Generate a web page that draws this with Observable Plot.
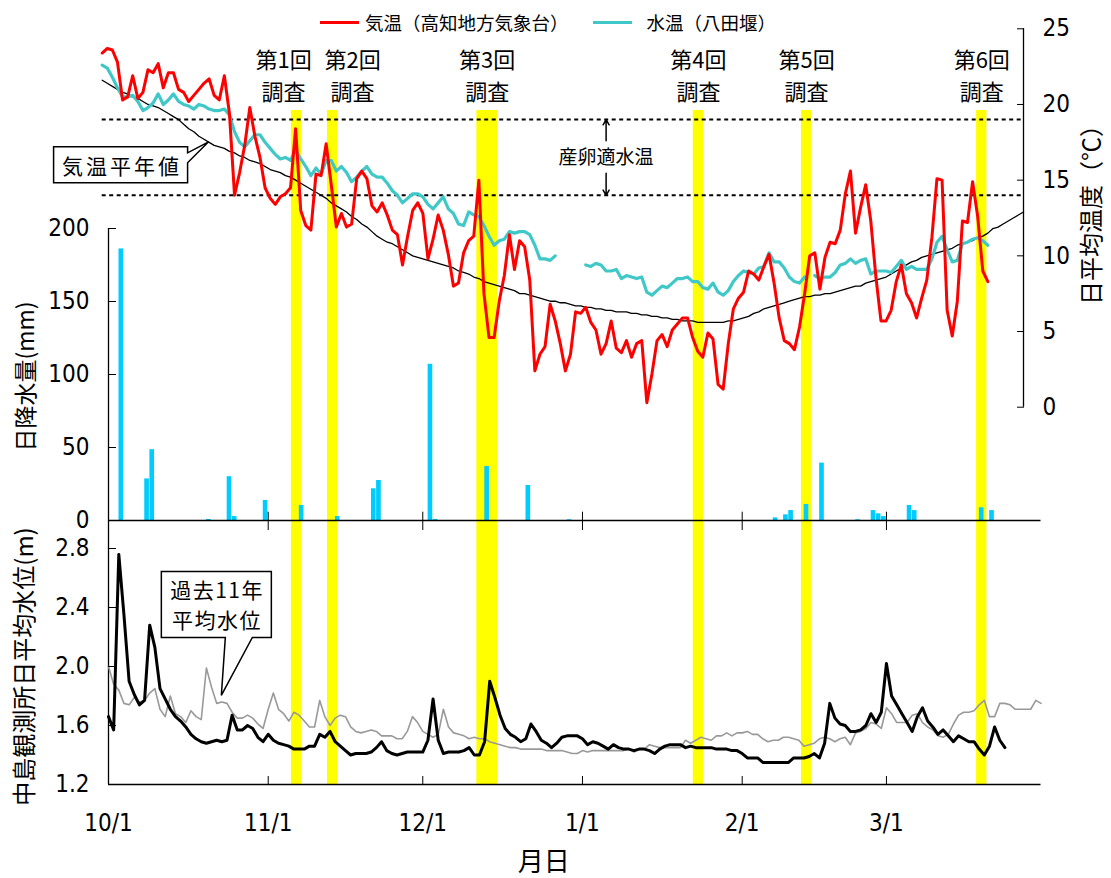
<!DOCTYPE html>
<html><head><meta charset="utf-8">
<script src="https://cdn.jsdelivr.net/npm/d3@7"></script>
<script src="https://cdn.jsdelivr.net/npm/@observablehq/plot@0.6"></script>
<style>
body{margin:0;background:#fff;font-family:"Noto Sans CJK JP",sans-serif;}
#chart{position:relative;width:1111px;height:878px;overflow:hidden;}
#chart>svg{position:absolute;left:0;top:0;}
#chart g[aria-label$="tick label"] text{font-family:"Liberation Sans Narrow","DejaVu Sans Condensed","Noto Sans CJK JP",sans-serif;font-size:24px;}
#legend{position:absolute;top:9px;left:320px;display:flex;align-items:center;font-size:18.5px;color:#000;white-space:nowrap;}
#legend .sw{display:inline-block;width:39px;height:3px;margin-right:6px;}
</style></head>
<body><div id="chart"><div id="legend"><span class="sw" style="background:#ff0000"></span>気温（高知地方気象台）<span class="sw" style="background:#40c8c8;margin-left:24px;margin-right:15px"></span>水温（八田堰）</div></div>
<script>
// ---------------- data ----------------
const startDate = "2018-10-01";           // day 0 of every daily series
const endDate = "2019-03-31";
const monthTicks = ["2018-10-01","2018-11-01","2018-12-01","2019-01-01","2019-02-01","2019-03-01"];
const tempTicks = [0,5,10,15,20,25];
const rainTicks = [0,50,100,150,200];
const levelTicks = [1.2,1.6,2.0,2.4,2.8];
const spawnRange = [14,19];

const surveyNames = ["第1回","第2回","第3回","第4回","第5回","第6回"];
const surveyWord = "調査";
const surveyStart = ["2018-11-06","2018-11-13","2018-12-12","2019-01-23","2019-02-13","2019-03-19"];
const surveyEnd   = ["2018-11-07","2018-11-14","2018-12-15","2019-01-24","2019-02-14","2019-03-20"];

// 気温（高知地方気象台） daily mean, °C
const airTemp = [23.4,23.7,23.6,22.8,20.3,20.5,21.9,20.4,20.8,22.3,
22.1,22.7,21.1,22.1,22.1,21.0,20.8,20.2,20.6,21.0,
21.4,21.7,20.6,20.3,21.9,19.4,14.0,15.5,17.3,19.8,
17.9,16.5,14.5,13.8,13.4,13.9,14.1,14.5,18.4,13.0,
12.0,11.7,15.4,15.3,17.4,14.7,11.9,12.8,11.9,12.1,
15.1,15.6,15.1,13.3,12.9,13.5,12.7,11.7,11.4,9.4,
11.3,13.0,13.5,12.8,9.8,11.1,12.7,11.7,10.1,8.0,
8.2,10.2,11.0,11.3,15.0,7.5,4.6,4.6,7.0,8.7,
11.4,9.1,11.0,10.6,8.4,2.4,3.5,4.0,6.8,5.7,
4.2,2.4,3.5,6.3,6.2,6.6,5.6,5.1,3.5,4.2,
5.7,3.9,3.6,4.4,3.3,4.2,4.4,0.3,2.2,4.4,
4.8,4.0,5.1,5.5,5.9,5.9,4.6,3.7,3.3,4.9,
4.5,1.5,1.2,4.2,6.5,7.2,7.6,9.0,8.8,8.4,
9.3,10.1,8.2,5.9,4.4,4.2,3.8,5.3,7.5,10.0,
10.2,7.8,9.9,10.9,10.8,11.7,14.1,15.6,11.5,13.2,
14.7,12.3,8.6,5.7,5.7,6.4,8.3,9.4,7.5,6.9,
5.9,7.2,8.4,11.2,15.1,15.0,6.4,4.7,7.0,12.3,
12.2,14.9,12.6,9.0,8.3];

// 水温（八田堰） daily mean, °C (null = missing)
const waterTemp = [22.6,22.4,21.8,21.1,20.5,20.5,20.6,20.2,19.6,19.8,
20.1,20.7,20.0,20.3,20.7,20.2,20.0,19.9,19.7,20.0,
19.9,19.7,19.6,19.6,19.7,19.3,18.2,17.5,17.2,17.6,
18.0,18.0,17.5,17.1,16.7,16.4,16.5,16.3,17.0,16.4,
15.9,15.3,15.8,15.4,16.3,16.3,15.6,15.9,15.5,14.9,
15.2,15.6,15.9,15.4,15.2,15.2,14.8,14.3,14.0,13.5,
13.8,14.1,14.1,13.9,13.4,13.1,13.5,13.9,13.1,12.8,
12.1,12.0,12.9,12.7,12.6,12.0,11.3,10.7,11.0,11.1,
11.6,11.5,11.6,11.6,11.4,10.7,9.8,9.8,9.7,10.0,
null,null,null,null,null,9.4,9.3,9.5,9.4,9.0,
9.0,9.1,8.5,8.7,8.6,8.5,8.6,7.6,7.4,7.7,
8.0,7.9,8.2,8.5,8.5,8.6,8.3,8.3,7.9,7.8,
8.2,7.6,7.4,7.7,8.3,8.7,9.0,8.9,8.8,9.2,
9.3,10.2,9.6,9.6,9.2,8.6,8.3,8.2,8.6,null,
8.7,8.5,8.6,8.6,8.9,9.4,9.5,9.8,9.5,9.7,
9.8,8.8,9.0,9.0,9.0,8.9,9.3,9.7,9.1,9.3,
9.1,9.1,9.1,9.8,10.9,11.3,10.4,9.6,9.7,10.8,
10.9,11.1,11.2,11.0,10.7];

// 気温平年値, °C
const normalTemp = [21.6,21.4,21.2,21.0,20.8,20.7,20.5,20.4,20.2,20.0,
19.9,19.8,19.6,19.4,19.2,19.0,18.7,18.4,18.2,17.9,
17.7,17.5,17.3,17.2,17.1,16.9,16.8,16.6,16.5,16.3,
16.2,16.1,15.9,15.7,15.6,15.5,15.3,15.2,15.0,14.8,
14.6,14.4,14.2,14.0,13.8,13.5,13.3,13.1,12.9,12.6,
12.4,12.1,11.9,11.6,11.3,11.1,10.9,10.8,10.6,10.4,
10.2,10.0,9.9,9.8,9.7,9.6,9.5,9.4,9.3,9.2,
9.0,8.9,8.8,8.6,8.5,8.3,8.2,8.1,8.0,7.9,
7.8,7.7,7.5,7.5,7.4,7.3,7.2,7.1,7.0,7.0,
6.9,6.9,6.8,6.7,6.7,6.6,6.6,6.5,6.5,6.4,
6.4,6.3,6.3,6.3,6.2,6.2,6.1,6.1,6.0,6.0,
5.9,5.9,5.8,5.8,5.7,5.7,5.7,5.6,5.6,5.6,
5.6,5.6,5.6,5.7,5.7,5.8,5.9,6.0,6.2,6.3,
6.5,6.6,6.7,6.8,6.9,7.0,7.1,7.2,7.3,7.3,
7.4,7.4,7.5,7.5,7.6,7.7,7.8,7.9,8.0,8.0,
8.2,8.3,8.4,8.5,8.6,8.8,9.0,9.2,9.4,9.6,
9.7,9.9,10.0,10.1,10.2,10.3,10.4,10.5,10.7,10.8,
10.9,11.0,11.2,11.3,11.5,11.8,11.9,12.1,12.3,12.5,
12.7,12.9];

// 中島観測所 日平均水位, m
const waterLevel = [1.66,1.57,2.76,2.35,1.90,1.81,1.74,1.77,2.28,2.13,
1.85,1.78,1.71,1.66,1.63,1.59,1.54,1.51,1.49,1.48,
1.49,1.50,1.49,1.50,1.67,1.57,1.57,1.60,1.58,1.52,
1.49,1.54,1.50,1.48,1.47,1.46,1.44,1.44,1.44,1.46,
1.46,1.54,1.52,1.56,1.49,1.46,1.43,1.40,1.41,1.41,
1.41,1.42,1.45,1.49,1.43,1.41,1.40,1.41,1.42,1.42,
1.42,1.42,1.50,1.78,1.50,1.41,1.42,1.42,1.42,1.43,
1.45,1.40,1.40,1.49,1.90,1.79,1.67,1.58,1.54,1.52,
1.49,1.51,1.61,1.56,1.50,1.48,1.45,1.48,1.52,1.53,
1.53,1.53,1.51,1.47,1.49,1.48,1.46,1.44,1.47,1.45,
1.44,1.44,1.43,1.44,1.44,1.43,1.41,1.44,1.46,1.47,
1.47,1.47,1.45,1.46,1.45,1.45,1.45,1.45,1.44,1.44,
1.44,1.43,1.43,1.41,1.38,1.38,1.38,1.35,1.35,1.35,
1.35,1.35,1.35,1.38,1.38,1.38,1.39,1.41,1.38,1.48,
1.75,1.65,1.61,1.60,1.56,1.56,1.57,1.60,1.68,1.62,
1.69,2.02,1.80,1.74,1.68,1.62,1.56,1.66,1.72,1.63,
1.59,1.54,1.57,1.53,1.49,1.53,1.51,1.49,1.49,1.44,
1.40,1.46,1.59,1.50,1.45];

// 過去11年平均水位, m
const avgLevel = [2.00,1.88,1.84,1.75,1.74,1.79,1.76,1.77,1.82,1.85,
1.71,1.66,1.80,1.68,1.66,1.62,1.70,1.66,1.64,1.99,
1.86,1.75,1.76,1.75,1.69,1.65,1.65,1.67,1.65,1.61,
1.58,1.71,1.82,1.71,1.68,1.63,1.69,1.67,1.63,1.59,
1.59,1.77,1.66,1.60,1.65,1.67,1.66,1.59,1.56,1.55,
1.56,1.57,1.56,1.53,1.53,1.53,1.51,1.51,1.56,1.66,
1.62,1.56,1.54,1.52,1.54,1.71,1.59,1.55,1.54,1.53,
1.51,1.52,1.51,1.51,1.49,1.48,1.47,1.46,1.45,1.45,
1.44,1.44,1.44,1.44,1.44,1.43,1.43,1.43,1.43,1.42,
1.41,1.41,1.43,1.42,1.43,1.43,1.43,1.43,1.43,1.43,
1.43,1.44,1.42,1.44,1.44,1.47,1.46,1.45,1.45,1.45,
1.45,1.45,1.50,1.48,1.50,1.52,1.51,1.50,1.53,1.53,
1.55,1.53,1.55,1.55,1.56,1.54,1.54,1.51,1.49,1.50,
1.50,1.52,1.52,1.51,1.50,1.46,1.47,1.48,1.51,1.52,
1.51,1.49,1.51,1.52,1.47,1.55,1.56,1.58,1.62,1.61,
1.58,1.72,1.68,1.62,1.62,1.62,1.67,1.68,1.62,1.59,
1.57,1.53,1.52,1.54,1.61,1.67,1.69,1.69,1.70,1.74,
1.77,1.66,1.66,1.75,1.75,1.74,1.71,1.71,1.71,1.71,
1.77,1.75];

// 日降水量, mm
const rainDates = ["2018-10-03","2018-10-08","2018-10-09","2018-10-20","2018-10-24","2018-10-25","2018-10-31",
"2018-11-07","2018-11-14","2018-11-21","2018-11-22","2018-12-02","2018-12-03","2018-12-13","2018-12-21","2018-12-29",
"2019-02-07","2019-02-09","2019-02-10","2019-02-13","2019-02-16","2019-02-23","2019-02-26","2019-02-27","2019-02-28",
"2019-03-05","2019-03-06","2019-03-19","2019-03-21"];
const rainMm = [186,28.5,48.5,0.7,30,2.7,13.7,
10.3,2.7,21.7,27.4,107,0.7,37,24,0.5,
1.8,3.9,6.8,11,39.3,0.5,6.8,4.6,2.7,
10.3,6.8,8.7,6.8];

// ---------------- build ----------------
const W = 1111, H = 878;
const t0 = new Date(startDate), t1 = new Date(endDate);
const dayOf = i => d3.utcDay.offset(t0, i);
const rows = arr => arr.map((v, i) => ({date: dayOf(i), v}));
const airRows = rows(airTemp), waterRows = rows(waterTemp), normalRows = rows(normalTemp);
const levelRows = rows(waterLevel), avgRows = rows(avgLevel);
const rain = rainDates.map((d, i) => ({date: new Date(d), mm: rainMm[i]}));
const months = monthTicks.map(d => new Date(d));
const surveys = surveyNames.map((n, i) => {
  const s = new Date(surveyStart[i]), e = new Date(surveyEnd[i]);
  return {name: n, x1: d3.utcHour.offset(s, -12), x2: d3.utcHour.offset(e, 12),
          mid: new Date((s.getTime() + e.getTime()) / 2)};
});
const JP = '"Noto Sans CJK JP", sans-serif';
const baseStyle = {background: "transparent", overflow: "visible", fontFamily: JP, fontSize: "22px", color: "#000"};
const blank = () => "";

// bottom-panel x geometry (shared by bands, rain, level)
const bx = {marginLeft: 108, marginRight: W - 1040.5};
const xs = {type: "utc", domain: [t0, t1]};
const st = {x: "mid", frameAnchor: "top", lineAnchor: "middle", textAnchor: "middle", fontSize: 22, fill: "#000"};
const surveyLabel = (data, dx) => [
  Plot.text(data, {...st, text: "name", dx, dy: -50}),
  Plot.text(data, {...st, text: () => surveyWord, dx, dy: -18})
];

// layer 1: survey bands, survey labels, left axis line
const base = Plot.plot({
  width: W, height: H, ...bx, marginTop: 110, marginBottom: H - 784,
  x: {...xs, axis: null}, style: baseStyle,
  marks: [
    Plot.rect(surveys, {x1: "x1", x2: "x2", fill: "#ffff00"}),
    Plot.ruleX([t0], {insetTop: 118, stroke: "#000", strokeWidth: 1.3}),
    ...surveyLabel(surveys.slice(0, 1), -13),
    ...surveyLabel(surveys.slice(1, 2), 20),
    ...surveyLabel(surveys.slice(2), 0)
  ]
});

// layer 2: daily precipitation
const rainPlot = Plot.plot({
  width: W, height: H, ...bx, marginTop: 228, marginBottom: H - 520,
  x: {...xs, axis: null}, y: {domain: [0, 200], axis: null}, style: baseStyle,
  marks: [
    Plot.rectY(rain, {x1: "date", x2: d => d3.utcDay.offset(d.date, 1), y: "mm", fill: "#00ccff", insetLeft: 0.2, insetRight: 0.3}),
    Plot.ruleY([0], {stroke: "#000", strokeWidth: 1.3}),
    Plot.axisY(rainTicks, {anchor: "left", tickSize: 0, tickPadding: 19, label: null}),
    Plot.axisY(rainTicks, {anchor: "left", tickSize: -8, tickFormat: blank, label: null}),
    Plot.axisX(months, {anchor: "bottom", tickSize: -8.3, tickFormat: blank, label: null}),
    Plot.text(["日降水量(mm)"], {frameAnchor: "left", textAnchor: "middle", lineAnchor: "middle", dx: -82, dy: 2, rotate: -90, fontSize: 23, fill: "#000"})
  ]
});

// layer 3: water level
const levelPlot = Plot.plot({
  width: W, height: H, ...bx, marginTop: 520, marginBottom: H - 784,
  x: {...xs, axis: null}, y: {domain: [1.2, 2.8], range: [784, 548], axis: null}, style: baseStyle,
  marks: [
    Plot.lineY(avgRows, {x: "date", y: "v", stroke: "#999999", strokeWidth: 1.6}),
    Plot.lineY(levelRows, {x: "date", y: "v", stroke: "#000", strokeWidth: 3, strokeLinejoin: "round"}),
    Plot.ruleY([1.2], {stroke: "#000", strokeWidth: 1.3}),
    Plot.axisY(levelTicks, {anchor: "left", tickSize: 0, tickPadding: 19, tickFormat: d3.format(".1f"), label: null}),
    Plot.axisY(levelTicks, {anchor: "left", tickSize: -8, tickFormat: blank, label: null}),
    Plot.axisX(months, {anchor: "top", tickSize: -9, tickFormat: blank, label: null}),
    Plot.axisX(months, {anchor: "bottom", tickSize: -8, tickFormat: blank, label: null}),
    Plot.axisX(months, {anchor: "bottom", tickSize: 0, tickPadding: 29, tickFormat: d3.utcFormat("%-m/%-d"), label: null}),
    Plot.text(["中島観測所日平均水位(m)"], {frameAnchor: "left", textAnchor: "middle", lineAnchor: "middle", dx: -83, dy: 14, rotate: -90, fontSize: 24, fill: "#000"}),
    Plot.text(["月日"], {frameAnchor: "bottom", textAnchor: "middle", lineAnchor: "middle", dx: -31, dy: 78, fontSize: 26, fill: "#000"})
  ]
});

// layer 4: temperatures (own x extent, right axis)
const noteDay = dayOf(99);
const tempPlot = Plot.plot({
  width: W, height: H, marginLeft: 101.7, marginRight: W - 1023, marginTop: 28.3, marginBottom: H - 406.7,
  x: {...xs, axis: null}, y: {domain: [0, 25], axis: null}, style: baseStyle,
  marks: [
    Plot.ruleY(spawnRange, {stroke: "#000", strokeWidth: 2, strokeDasharray: "4,3.5"}),
    Plot.lineY(normalRows, {x: "date", y: "v", stroke: "#000", strokeWidth: 1.3}),
    Plot.lineY(waterRows, {x: "date", y: "v", stroke: "#40c8c8", strokeWidth: 3.2, strokeLinejoin: "round"}),
    Plot.lineY(airRows, {x: "date", y: "v", stroke: "#ff0000", strokeWidth: 3, strokeLinejoin: "round"}),
    Plot.ruleX([t1], {y1: 0, y2: 25, stroke: "#000", strokeWidth: 1.3}),
    Plot.axisY(tempTicks, {anchor: "right", tickSize: 0, tickPadding: 19, label: null}),
    Plot.axisY(tempTicks, {anchor: "right", tickSize: -7, tickFormat: blank, label: null}),
    Plot.text(["日平均温度（℃）"], {frameAnchor: "right", textAnchor: "middle", lineAnchor: "middle", dx: 69, dy: -9, rotate: -90, fontSize: 24, fill: "#000"}),
    Plot.text(["産卵適水温"], {x: noteDay, y: d3.mean(spawnRange), fontSize: 19, fill: "#000"}),
    Plot.arrow([{y1: 17.6, y2: spawnRange[1]}, {y1: 15.45, y2: spawnRange[0]}],
      {x1: () => noteDay, x2: () => noteDay, y1: "y1", y2: "y2", stroke: "#000", strokeWidth: 1.5, headLength: 6})
  ]
});

const chart = document.getElementById("chart");
[base, rainPlot, levelPlot, tempPlot].forEach(p => chart.insertBefore(p, document.getElementById("legend")));

// callout boxes anchored to the data through the plots' scales
function callout(svg, pts, lines, cx, cy, gap, size, spacing) {
  const g = d3.select(svg).append("g");
  g.append("path").attr("d", "M" + pts.map(p => p.join(",")).join("L") + "Z")
    .attr("fill", "#fff").attr("stroke", "#000").attr("stroke-width", 1.5).attr("stroke-linejoin", "miter");
  lines.forEach((t, k) => g.append("text")
    .attr("x", cx + spacing / 2).attr("y", cy + (k - (lines.length - 1) / 2) * gap)
    .attr("text-anchor", "middle").attr("dominant-baseline", "central")
    .attr("font-family", JP).attr("font-size", size).attr("letter-spacing", spacing).attr("fill", "#000").text(t));
}
{
  const i = 21;
  const tx = tempPlot.scale("x").apply(dayOf(i)), ty = tempPlot.scale("y").apply(normalTemp[i]);
  const L = tx - 155, R = tx - 21, T = ty + 5, B = ty + 41;
  callout(tempPlot, [[L, T], [R, T], [R, T + 6], [tx, ty], [R, T + 16], [R, B], [L, B]],
    ["気温平年値"], (L + R) / 2, (T + B) / 2, 0, 21, 3);
}
{
  const i = 22;
  const px = levelPlot.scale("x").apply(dayOf(i)), py = levelPlot.scale("y").apply(avgLevel[i]) - 6;
  const L = px - 60, R = px + 50, T = py - 124, B = py - 58;
  callout(levelPlot, [[L, T], [R, T], [R, B], [px + 31, B], [px, py], [px + 4, B], [L, B]],
    ["過去11年", "平均水位"], (L + R) / 2, (T + B) / 2, 30, 21, 1.5);
}
</script></body></html>
